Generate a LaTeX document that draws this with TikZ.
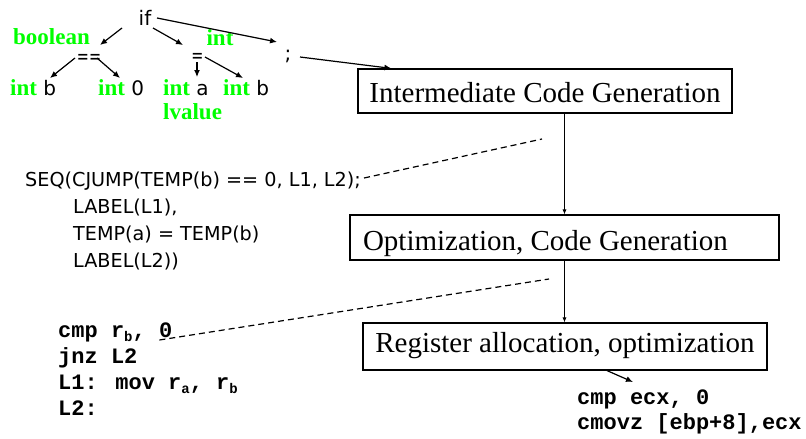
\documentclass[tikz,border=0pt]{standalone}
\usepackage{fontspec}
\usepackage{graphicx}
\setmainfont{Liberation Serif}
\newfontfamily\dvs{DejaVu Sans}
\newfontfamily\cour{Liberation Mono}
\usetikzlibrary{arrows.meta,calc}
\definecolor{tgreen}{RGB}{0,255,0}
\newcommand\tg[1]{{\rmfamily\bfseries\fontsize{23}{27}\selectfont\color{tgreen}#1}}
\newcommand\rsub[1]{\raisebox{-4pt}{\fontsize{14}{14}\selectfont #1}}
\begin{document}
\begin{tikzpicture}[x=1pt,y=-1pt,
  tree/.style={font=\dvs\fontsize{20}{24}\selectfont, inner sep=0pt},
  tlab/.style={font=\rmfamily\bfseries\fontsize{23}{27}\selectfont, text=tgreen, inner sep=0pt},
  arr/.style={-{Latex[length=7pt,width=6pt]}, line width=1.2pt},
  varr/.style={-{Latex[length=5pt,width=4pt]}, line width=0.7pt},
  stage/.style={draw, line width=1.2pt, font=\rmfamily\fontsize{29}{34}\selectfont, inner ysep=0pt, text depth=0pt},
  ir/.style={font=\dvs\fontsize{19.2}{23}\selectfont, inner sep=0pt, anchor=base west},
  asm/.style={font=\cour\bfseries\fontsize{22}{26}\selectfont, inner sep=0pt, anchor=base west},
  dsh/.style={dash pattern=on 6pt off 4pt, line width=1.2pt}]

\useasboundingbox (0,0) rectangle (806,439);

% AST
\node[tree, anchor=base] (if) at (145,25) {if};
\node[tree, anchor=base] (eqeq) at (89,63) {\scalebox{0.72}[1]{==}};
\node[tree, anchor=base] (asg) at (197.5,62) {\scalebox{0.72}[1]{=}};
\node[tree, anchor=base] (semi) at (288,60) {;};
\node[tlab, anchor=base] (bool) at (51.5,44) {boolean};
\node[tlab, anchor=base] (tint) at (220,45) {int};
\node[tree, anchor=base west] (lf1) at (10,95) {\tg{int} b};
\node[tree, anchor=base west] (lf2) at (98,95) {\tg{int} 0};
\node[tree, anchor=base west] (lf3) at (163,95) {\tg{int} a};
\node[tree, anchor=base west] (lf4) at (223,95) {\tg{int} b};
\node[tlab, anchor=base west] (lval) at (163,119) {lvalue};

\draw[arr] ($(if.base)+(-23,3)$) -- ($(eqeq.base)+(11,-18)$);
\draw[arr] ($(if.base)+(8,3)$) -- ($(asg.base)+(-14.5,-17)$);
\draw[arr] ($(if.base)+(12,-7)$) -- ($(semi.base)+(-11,-18)$);
\draw[arr] ($(eqeq.base)+(-14,-5)$) -- ($(lf1.base west)+(40,-17)$);
\draw[arr] ($(eqeq.base)+(8,-5)$) -- ($(lf2.base west)+(22,-17)$);
\draw[arr] ($(asg.base)+(-0.5,0)$) -- ($(lf3.base west)+(34,-18)$);
\draw[arr] ($(asg.base)+(7.5,-5)$) -- ($(lf4.base west)+(20,-17)$);

% stages
\node[stage, minimum width=374pt, minimum height=44pt, text height=22pt] (ibox) at (545,91) {Intermediate Code Generation};
\node[stage, minimum width=429pt, minimum height=45pt, text height=25pt, inner xsep=13pt] (obox) at (564.5,237.5) {\makebox[403pt][l]{Optimization, Code Generation}};
\node[stage, minimum width=404pt, minimum height=47pt, text height=12pt] (rbox) at (565,346.5) {Register allocation, optimization};

\draw[arr] ($(semi.base)+(12,-3)$) -- ($(ibox.north west)+(34,0)$);
\coordinate (vx) at (564.5,0);
\draw[varr] (vx |- ibox.south) -- (vx |- obox.north);
\draw[varr] (vx |- obox.south) -- (vx |- rbox.north);

% IR code
\node[ir] (s1) at (25,186) {SEQ(CJUMP(TEMP(b) == 0, L1, L2);};
\node[ir] (s2) at (73,213) {LABEL(L1),};
\node[ir] (s3) at (73,240) {TEMP(a) = TEMP(b)};
\node[ir] (s4) at (73,267) {LABEL(L2))};

% abstract assembly
\node[asm] (a1) at (58,337) {cmp r\rsub{b}, 0};
\node[asm] (a2) at (58,363) {jnz L2};
\node[asm] (a3) at (58,389) {L1: mov r\rsub{a}, r\rsub{b}};
\node[asm] (a4) at (58,415) {L2:};

% final assembly
\node[asm] (x1) at (577,404) {cmp ecx, 0};
\node[asm] (x2) at (577,429) {cmovz [ebp+8],ecx};
\draw[arr] ($(rbox.south)+(42,0)$) -- ($(x1.base west)+(56,-22)$);

% dashed leaders
\coordinate (d1) at (542,139);
\coordinate (d2) at (549,279);
\draw[dsh] ($(s1.base east)+(3,-8)$) -- (d1);
\draw[dsh] ($(a1.base east)+(-13,3)$) -- (d2);
\end{tikzpicture}
\end{document}
